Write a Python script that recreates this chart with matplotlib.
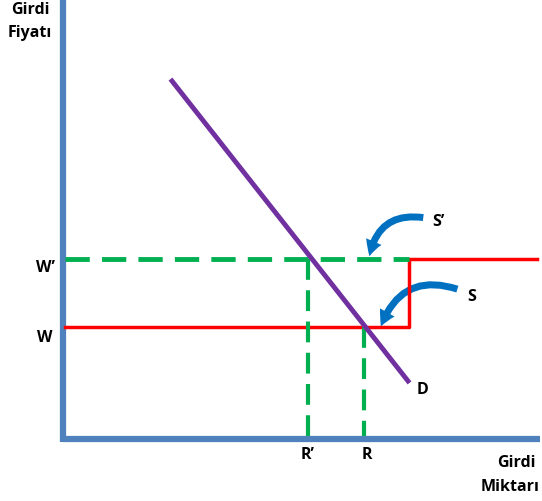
import matplotlib.pyplot as plt
from matplotlib.patches import FancyArrowPatch

# levels (canvas units, y grows downward)
W = 328
W_prime = 260
R = 364
R_prime = 308
step_x = 409
x_end = 537
axis_x = 63
axis_y = 440
demand_x = [172, 408]
demand_y = [82, 382]

blue_axis = '#4F81BD'
red = '#FF0000'
green = '#00B050'
purple = '#7030A0'
arrow_blue = '#0070C0'

fig = plt.figure(figsize=(5.42, 5.02), dpi=100)
ax = fig.add_axes([0, 0, 1, 1])
ax.set_xlim(0, 542)
ax.set_ylim(502, 0)
ax.axis('off')

# axes
ax.plot([axis_x, axis_x], [0, axis_y + 3], color=blue_axis, lw=4.5, solid_capstyle='butt')
ax.plot([axis_x, 540], [axis_y, axis_y], color=blue_axis, lw=4.5, solid_capstyle='butt')

# supply curve S (with step up to S')
ax.plot([axis_x + 2, step_x, step_x, x_end], [W, W, W_prime, W_prime], color=red, lw=2.5)

# W' dashed line and vertical dashes
ax.plot([axis_x + 2, step_x], [W_prime, W_prime], color=green, lw=3.5, dashes=(5, 2.5))
ax.plot([R_prime, R_prime], [W_prime, axis_y - 3], color=green, lw=3, dashes=(5, 2.5))
ax.plot([R, R], [W, axis_y - 3], color=green, lw=3, dashes=(5, 2.5))

# demand
ax.plot(demand_x, demand_y, color=purple, lw=3.5)

# curved arrows
for start, end in [((426, 219), (369, 260)), ((460, 291), (380, 330))]:
    ax.add_patch(FancyArrowPatch(start, end, connectionstyle='arc3,rad=0.5',
                                 arrowstyle='simple,head_width=12,head_length=11,tail_width=5',
                                 color=arrow_blue, lw=0))

fs = 11.5
fam = ['Open Sans', 'DejaVu Sans']
kw = dict(fontsize=fs, fontweight='bold', family=fam, color='black')
ax.text(30, 10, 'Girdi', ha='center', va='center', **kw)
ax.text(30, 33, 'Fiyatı', ha='center', va='center', **kw)
ax.text(45, 268, 'W\u2019', ha='center', va='center', **kw)
ax.text(45, 338, 'W', ha='center', va='center', **kw)
ax.text(308, 455, 'R\u2019', ha='center', va='center', **kw)
ax.text(367, 455, 'R', ha='center', va='center', **kw)
ax.text(516, 463, 'Girdi', ha='center', va='center', **kw)
ax.text(510, 487, 'Miktarı', ha='center', va='center', **kw)
ax.text(422, 390, 'D', ha='center', va='center', **kw)
ax.text(438, 222, 'S\u2019', ha='center', va='center', **kw)
ax.text(472, 297, 'S', ha='center', va='center', **kw)

fig.savefig('out.png', dpi=100)
